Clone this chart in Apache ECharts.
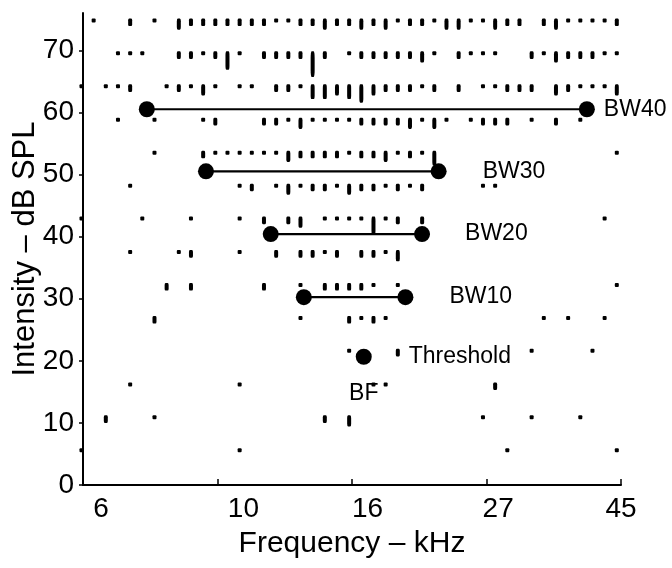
<!DOCTYPE html>
<html><head><meta charset="utf-8">
<script src="https://cdn.jsdelivr.net/npm/echarts@6/dist/echarts.min.js"></script>
<style>html,body{margin:0;padding:0;background:#fff}#c{width:672px;height:568px}</style>
</head><body><div id="c"></div>
<script>
// ---------- data ----------
// stimulus frequency columns (kHz)
const freqKHz = [5.966, 6.244, 6.535, 6.840, 7.159, 7.492, 7.842, 8.207, 8.590, 8.990,
  9.410, 9.848, 10.307, 10.788, 11.291, 11.817, 12.368, 12.945, 13.548, 14.180,
  14.841, 15.533, 16.257, 17.015, 17.808, 18.638, 19.507, 20.417, 21.368, 22.365,
  23.407, 24.498, 25.640, 26.836, 28.087, 29.396, 30.767, 32.201, 33.702, 35.273,
  36.918, 38.639, 40.440, 42.325, 44.298];
// raster row levels (dB SPL), top to bottom
const rowLevelDb = [74.8, 69.5, 64.2, 58.8, 53.5, 48.2, 42.9, 37.5, 32.2, 26.9, 21.6, 16.2, 10.9, 5.6];
// spike counts per frequency column for each row
const spikes75 = [0,1,0,0,2,0,1,0,3,2, 2,2,2,2,2,2,1,1,2,2, 3,2,2,3,2,3,1,2,2,1, 3,3,1,1,3,2,2,0,2,3, 1,1,1,1,2];
const spikes70 = [0,0,0,1,1,1,0,0,2,2, 1,2,5,1,0,2,2,2,2,7, 2,0,1,2,2,2,2,2,3,1, 0,2,1,1,1,0,0,2,1,3, 2,2,2,1,1];
const spikes64 = [1,0,1,1,2,0,0,1,2,1, 3,1,0,1,1,0,2,2,1,4, 4,3,4,5,3,2,2,2,1,2, 0,2,0,1,1,2,2,2,0,3, 2,1,1,1,3];
const spikes59 = [0,0,0,1,0,0,1,0,0,0, 1,2,0,0,0,2,2,1,3,1, 1,1,1,2,2,2,2,3,1,3, 1,0,1,2,2,2,0,1,0,2, 0,1,0,0,0];
const spikes54 = [0,0,0,0,0,0,1,0,0,0, 2,1,1,1,1,1,1,3,2,2, 2,2,1,2,2,3,1,2,1,4, 0,0,0,0,0,0,0,0,0,0, 0,0,0,0,1];
const spikes48 = [0,0,0,0,1,0,0,0,0,0, 0,0,0,1,2,0,1,3,1,2, 2,1,3,2,2,1,2,1,2,0, 0,0,0,1,1,0,0,0,0,0, 0,0,0,0,0];
const spikes43 = [1,0,0,0,0,1,0,0,0,1, 0,0,0,1,0,2,0,2,3,0, 1,1,1,1,5,1,2,0,2,0, 0,0,0,0,0,0,0,0,0,0, 0,0,0,1,0];
const spikes38 = [0,0,0,0,1,0,0,0,1,2, 0,0,0,1,0,0,2,0,2,2, 1,2,0,2,2,1,3,0,0,0, 0,0,0,0,0,0,0,0,0,0, 0,0,0,0,0];
const spikes32 = [0,0,0,0,0,0,0,2,0,2, 0,0,0,0,0,2,0,0,1,0, 2,2,2,2,1,0,1,0,0,0, 0,0,0,0,0,0,0,0,0,0, 0,0,0,0,1];
const spikes27 = [0,0,0,0,0,0,2,0,0,0, 0,0,0,0,0,0,0,0,1,0, 0,0,2,1,2,1,0,0,0,0, 0,0,0,0,0,0,0,0,1,0, 1,0,0,1,0];
const spikes22 = [0,0,0,0,0,0,0,0,0,0, 0,0,0,0,0,0,0,0,0,0, 0,0,1,0,0,0,2,0,0,0, 0,0,0,0,0,0,0,1,0,0, 0,0,1,0,0];
const spikes16 = [0,0,0,0,1,0,0,0,0,0, 0,0,0,1,0,0,0,0,0,0, 0,0,0,0,1,1,0,0,0,0, 0,0,0,0,2,0,0,0,0,0, 0,0,0,0,0];
const spikes11 = [0,0,2,0,0,0,1,0,0,0, 0,0,0,0,0,0,0,0,0,0, 2,0,3,0,0,0,0,0,0,0, 0,0,0,1,0,0,0,1,0,0, 0,1,0,0,0];
const spikes6  = [1,0,0,0,0,0,0,0,0,0, 0,0,0,1,0,0,0,0,0,0, 0,0,0,0,0,0,0,0,0,0, 0,0,0,0,0,1,0,0,0,0, 0,0,0,0,1];

// bandwidth markers
const bwNames = ['BW10', 'BW20', 'BW30', 'BW40'];
const bwLevelDb = [30.25, 40.4, 50.5, 60.5];
const bwLowKHz = [13.72, 12.12, 9.51, 7.62];
const bwHighKHz = [20.07, 21.36, 22.73, 39.6];
// threshold / best frequency
const thresholdKHz = 17.17;
const thresholdDb = 20.65;

// axes
const xTickKHz = [6, 9.93, 16.43, 27.19, 45];
const xLabelKHz = [6.42, 10.94, 17.42, 28.41, 45];
const xLabelText = ['6', '10', '16', '27', '45'];
const yTickDb = [0, 10, 20, 30, 40, 50, 60, 70];

// ---------- styles ----------
const FONT = '"Liberation Sans", Arial, Helvetica, sans-serif';
const MARK_W = 4;
const MARK_STEP = 3.6;
const bwLabelGap = [36, 35, 36, 9];

const spikeRows = [spikes75, spikes70, spikes64, spikes59, spikes54, spikes48, spikes43,
  spikes38, spikes32, spikes27, spikes22, spikes16, spikes11, spikes6];
const spikeData = [];
spikeRows.forEach((row, i) => {
  row.forEach((n, j) => {
    if (n > 0) {
      const h = MARK_W + MARK_STEP * (n - 1);
      spikeData.push({
        value: [freqKHz[j], rowLevelDb[i], n],
        symbolSize: [MARK_W, h],
        symbolOffset: [0, (h - MARK_W) / 2]
      });
    }
  });
});

const labelStyle = { color: '#000', fontSize: 23, fontFamily: FONT };

const series = [{
  type: 'scatter',
  data: spikeData,
  symbol: 'roundRect',
  clip: false,
  silent: true,
  itemStyle: { color: '#000', opacity: 1 },
  z: 2
}];
bwNames.forEach((name, i) => {
  series.push({
    type: 'line',
    name: name,
    data: [
      [bwLowKHz[i], bwLevelDb[i]],
      { value: [bwHighKHz[i], bwLevelDb[i]],
        label: Object.assign({ show: true, position: 'right', distance: bwLabelGap[i], formatter: name }, labelStyle) }
    ],
    symbol: 'circle',
    symbolSize: 16,
    showSymbol: true,
    lineStyle: { color: '#000', width: 2.2 },
    itemStyle: { color: '#000', opacity: 1 },
    silent: true,
    z: 3
  });
});
series.push({
  type: 'scatter',
  data: [{ value: [thresholdKHz, thresholdDb],
    label: Object.assign({ show: true, position: 'right', distance: 37, formatter: 'Threshold' }, labelStyle) }],
  symbol: 'circle',
  symbolSize: 16,
  itemStyle: { color: '#000', opacity: 1 },
  silent: true,
  z: 3
});
series.push({
  type: 'scatter',
  data: [{ value: [thresholdKHz, thresholdDb],
    label: Object.assign({ show: true, position: 'bottom', distance: 17, formatter: 'BF' }, labelStyle) }],
  symbol: 'circle',
  symbolSize: 16,
  itemStyle: { color: 'rgba(0,0,0,0)', opacity: 1 },
  silent: true,
  z: 1
});

function nearestLabel(v) {
  let best = 0, bd = Infinity;
  xLabelKHz.forEach((t, i) => { const d = Math.abs(Math.log(v) - Math.log(t)); if (d < bd) { bd = d; best = i; } });
  return xLabelText[best];
}

const chart = echarts.init(document.getElementById('c'));
chart.setOption({
  animation: false,
  backgroundColor: '#fff',
  grid: { left: 83, right: 51, top: 13, bottom: 83, containLabel: false, outerBoundsMode: 'none' },
  xAxis: {
    type: 'log',
    logBase: 10,
    min: 6,
    max: 45,
    axisLine: { show: true, lineStyle: { color: '#000', width: 2 } },
    axisTick: { show: true, inside: true, length: 6, customValues: xTickKHz, lineStyle: { color: '#000', width: 1.5 } },
    minorTick: { show: false },
    axisLabel: { show: true, customValues: xLabelKHz, formatter: nearestLabel, color: '#000', fontSize: 28, fontFamily: FONT, margin: 10 },
    splitLine: { show: false },
    name: 'Frequency \u2013 kHz',
    nameLocation: 'middle',
    nameGap: 44,
    nameMoveOverlap: false,
    nameTextStyle: { color: '#000', fontSize: 30, fontFamily: FONT }
  },
  yAxis: {
    type: 'value',
    min: 0,
    max: 76,
    axisLine: { show: true, lineStyle: { color: '#000', width: 2 } },
    axisTick: { show: true, inside: false, length: 4, customValues: yTickDb, lineStyle: { color: '#000', width: 1.5 } },
    axisLabel: { show: true, customValues: yTickDb, color: '#000', fontSize: 28, fontFamily: FONT, margin: 9 },
    splitLine: { show: false },
    name: 'Intensity \u2013 dB SPL',
    nameLocation: 'middle',
    nameGap: 42,
    nameMoveOverlap: false,
    nameRotate: 90,
    nameTextStyle: { color: '#000', fontSize: 31, fontFamily: FONT }
  },
  series: series
});
</script>
</body></html>
